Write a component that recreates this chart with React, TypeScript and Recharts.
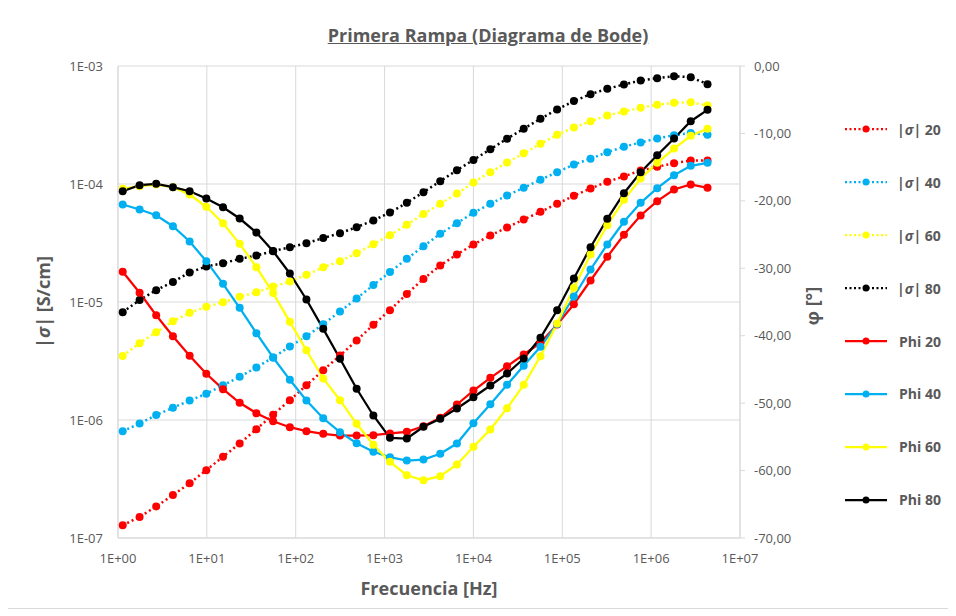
import React from 'react';
import { ComposedChart, Line, XAxis, YAxis, CartesianGrid, Legend } from 'recharts';

// Frequency [Hz]
const freq = [1.13, 1.75, 2.69, 4.15, 6.4, 9.86, 15.2, 23.4, 36.1, 55.7, 85.9, 132, 204, 315, 485, 748, 1150, 1780, 2740, 4230, 6520, 10000, 15500, 23900, 36800, 56800, 87500, 135000, 208000, 321000, 494000, 762000, 1170000, 1810000, 2790000, 4310000];

// |sigma| [S/cm]
const sigma20 = [1.28e-7, 1.51e-7, 1.85e-7, 2.31e-7, 2.91e-7, 3.76e-7, 4.88e-7, 6.32e-7, 8.36e-7, 1.11e-6, 1.47e-6, 1.97e-6, 2.64e-6, 3.52e-6, 4.72e-6, 6.41e-6, 8.53e-6, 1.17e-5, 1.57e-5, 2.04e-5, 2.53e-5, 3.07e-5, 3.66e-5, 4.28e-5, 5.0e-5, 5.81e-5, 6.79e-5, 7.94e-5, 9.16e-5, 1.045e-4, 1.16e-4, 1.3e-4, 1.4e-4, 1.5e-4, 1.58e-4, 1.58e-4];
const sigma40 = [8.04e-7, 9.33e-7, 1.1e-6, 1.27e-6, 1.46e-6, 1.67e-6, 1.97e-6, 2.32e-6, 2.79e-6, 3.39e-6, 4.2e-6, 5.13e-6, 6.49e-6, 8.3e-6, 1.07e-5, 1.39e-5, 1.8e-5, 2.32e-5, 2.97e-5, 3.78e-5, 4.66e-5, 5.7e-5, 6.79e-5, 8.0e-5, 9.29e-5, 1.087e-4, 1.26e-4, 1.46e-4, 1.64e-4, 1.86e-4, 2.07e-4, 2.25e-4, 2.43e-4, 2.59e-4, 2.7e-4, 2.61e-4];
const sigma60 = [3.48e-6, 4.48e-6, 5.55e-6, 6.87e-6, 8.09e-6, 9.1e-6, 9.95e-6, 1.107e-5, 1.21e-5, 1.35e-5, 1.49e-5, 1.7e-5, 1.97e-5, 2.22e-5, 2.59e-5, 3.09e-5, 3.68e-5, 4.51e-5, 5.58e-5, 6.79e-5, 8.3e-5, 1.03e-4, 1.26e-4, 1.52e-4, 1.82e-4, 2.19e-4, 2.61e-4, 3.01e-4, 3.4e-4, 3.81e-4, 4.11e-4, 4.43e-4, 4.69e-4, 4.88e-4, 4.93e-4, 4.62e-4];
const sigma80 = [8.2e-6, 1.04e-5, 1.26e-5, 1.48e-5, 1.78e-5, 2.0e-5, 2.13e-5, 2.32e-5, 2.48e-5, 2.7e-5, 2.91e-5, 3.15e-5, 3.48e-5, 3.83e-5, 4.31e-5, 4.91e-5, 5.73e-5, 6.93e-5, 8.53e-5, 1.057e-4, 1.31e-4, 1.6e-4, 1.97e-4, 2.42e-4, 2.94e-4, 3.57e-4, 4.28e-4, 5.04e-4, 5.77e-4, 6.41e-4, 6.97e-4, 7.53e-4, 7.89e-4, 8.2e-4, 8.04e-4, 7.02e-4];

// Phase [deg]
const phi20 = [-30.52, -33.62, -36.96, -40.07, -42.98, -45.65, -47.93, -49.95, -51.49, -52.68, -53.57, -54.16, -54.55, -54.8, -54.8, -54.76, -54.5, -54.25, -53.42, -52.17, -50.2, -48.13, -46.24, -44.52, -42.79, -41.05, -38.34, -35.33, -31.81, -28.3, -25.03, -22.17, -20.05, -18.32, -17.57, -18.06];
const phi40 = [-20.54, -21.28, -22.13, -23.76, -26.03, -28.95, -32.3, -35.86, -39.63, -43.23, -46.54, -49.61, -52.24, -54.31, -55.94, -57.22, -58.02, -58.51, -58.36, -57.51, -55.99, -52.98, -50.16, -47.28, -44.46, -41.65, -38.26, -34.19, -30.18, -26.47, -23.11, -20.29, -18.12, -16.2, -14.8, -14.36];
const phi60 = [-18.22, -17.83, -17.58, -17.97, -19.06, -20.88, -23.31, -26.37, -29.84, -33.68, -37.94, -42.15, -46.34, -49.56, -53.06, -56.18, -58.7, -60.69, -61.43, -60.83, -59.1, -56.48, -53.91, -50.75, -47.28, -43.04, -38.19, -32.89, -27.96, -23.61, -19.85, -16.69, -14.36, -12.24, -10.35, -9.31];
const phi80 = [-18.57, -17.68, -17.47, -17.97, -18.57, -19.65, -20.94, -22.62, -24.7, -27.47, -30.77, -34.63, -38.98, -43.42, -47.87, -51.83, -55.14, -55.25, -53.51, -52.32, -50.8, -49.12, -47.39, -45.61, -43.38, -40.31, -36.22, -31.52, -26.87, -22.66, -18.87, -15.75, -13.23, -10.75, -8.19, -6.5];

const xTicks = [1, 10, 100, 1e3, 1e4, 1e5, 1e6, 1e7];
const sigmaTicks = [1e-7, 1e-6, 1e-5, 1e-4, 1e-3];
const phiTicks = [-70, -60, -50, -40, -30, -20, -10, 0];
const temps = ['20', '40', '60', '80'];
const colors = ['#FF0000', '#00B0F0', '#FFFF00', '#000000'];

const sigmaSeries = [sigma20, sigma40, sigma60, sigma80];
const phiSeries = [phi20, phi40, phi60, phi80];

const data = freq.map((f, i) => {
  const row: Record<string, number> = { f };
  temps.forEach((t, k) => {
    row['s' + t] = sigmaSeries[k][i];
    row['p' + t] = phiSeries[k][i];
  });
  return row;
});

const FONT = '"Open Sans", sans-serif';
const GRAY = '#595959';
const GRID = '#d9d9d9';

const fmtX = (v: number) => '1E+' + String(Math.round(Math.log10(v))).padStart(2, '0');
const fmtSigma = (v: number) => '1E-' + String(Math.round(-Math.log10(v))).padStart(2, '0');
const fmtPhi = (v: number) => v.toFixed(2).replace('.', ',');

const legendItems = [
  ...temps.map((t, k) => ({ kind: 'sigma', t, color: colors[k] })),
  ...temps.map((t, k) => ({ kind: 'phi', t, color: colors[k] })),
];

function LegendContent() {
  return (
    <div style={{ display: 'flex', flexDirection: 'column', fontFamily: FONT }}>
      {legendItems.map((it) => (
        <div key={it.kind + it.t} style={{ height: 52.9, display: 'flex', alignItems: 'center' }}>
          <svg width={44} height={12} style={{ display: 'block' }}>
            <line x1={1} x2={43} y1={6} y2={6} stroke={it.color} strokeWidth={2.25}
              strokeDasharray={it.kind === 'sigma' ? '2 2.5' : undefined} />
            <circle cx={22} cy={6} r={3.5} fill={it.color} />
          </svg>
          <span style={{ marginLeft: it.kind === 'sigma' ? 9 : 11, fontSize: 14, fontWeight: 700, color: GRAY, whiteSpace: 'nowrap' }}>
            {it.kind === 'sigma' ? (<>|<i>σ</i>| {it.t}</>) : `Phi ${it.t}`}
          </span>
        </div>
      ))}
    </div>
  );
}

export default function App() {
  return (
    <div style={{ position: 'relative', width: 940, height: 600, border: '1px solid #d9d9d9', margin: '-1px 0 0 -1px', background: '#fff', fontFamily: FONT }}>
      <div style={{ position: 'absolute', left: 480, top: 27, transform: 'translate(-50%, -50%)', fontSize: 18, fontWeight: 700, color: GRAY, textDecoration: 'underline', whiteSpace: 'nowrap' }}>
        Primera Rampa (Diagrama de Bode)
      </div>
      <div style={{ position: 'absolute', left: 35, top: 294, transform: 'translate(-50%, -50%) rotate(-90deg)', fontSize: 18, fontWeight: 700, color: GRAY, whiteSpace: 'nowrap' }}>
        |<i>σ</i>| [S/cm]
      </div>
      <div style={{ position: 'absolute', left: 804, top: 298, transform: 'translate(-50%, -50%) rotate(-90deg)', fontSize: 18, fontWeight: 700, color: GRAY, whiteSpace: 'nowrap' }}>
        φ [°]
      </div>
      <div style={{ position: 'absolute', left: 421, top: 580, transform: 'translate(-50%, -50%)', fontSize: 18, fontWeight: 700, color: GRAY, whiteSpace: 'nowrap' }}>
        Frecuencia [Hz]
      </div>
      <ComposedChart width={940} height={600} data={data} margin={{ top: 58, right: 138, bottom: 40, left: 0 }} style={{ position: 'absolute', left: 0, top: 0 }}>
        <CartesianGrid stroke={GRID} yAxisId="left" />
        <XAxis dataKey="f" type="number" scale="log" domain={[1, 1e7]} ticks={xTicks} allowDataOverflow
          tickFormatter={fmtX} height={30} tickLine={false} tickSize={6} tickMargin={10}
          axisLine={{ stroke: GRID }} tick={{ fill: GRAY, fontSize: 13, fontFamily: FONT }} interval={0} />
        <YAxis yAxisId="left" type="number" scale="log" domain={[1e-7, 1e-3]} ticks={sigmaTicks} allowDataOverflow
          tickFormatter={fmtSigma} width={110} tickLine={false} tickSize={6} tickMargin={9}
          axisLine={{ stroke: GRID }} tick={{ fill: GRAY, fontSize: 13, fontFamily: FONT }} interval={0} />
        <YAxis yAxisId="right" orientation="right" type="number" domain={[-70, 0]} ticks={phiTicks} allowDataOverflow
          tickFormatter={fmtPhi} width={70} tickLine={{ stroke: GRID }} tickSize={5} tickMargin={9}
          axisLine={{ stroke: GRID }} tick={{ fill: GRAY, fontSize: 13, fontFamily: FONT, textAnchor: 'start' }} interval={0} />
        {temps.map((t, k) => (
          <Line key={'s' + t} yAxisId="left" dataKey={'s' + t} name={'|σ| ' + t} type="linear"
            stroke={colors[k]} strokeWidth={2.5} strokeDasharray="2 3"
            dot={{ r: 4, fill: colors[k], stroke: colors[k], strokeWidth: 0, strokeDasharray: 'none' }}
            activeDot={false} isAnimationActive={false} />
        ))}
        {temps.map((t, k) => (
          <Line key={'p' + t} yAxisId="right" dataKey={'p' + t} name={'Phi ' + t} type="linear"
            stroke={colors[k]} strokeWidth={2.25}
            dot={{ r: 4, fill: colors[k], stroke: colors[k], strokeWidth: 0 }}
            activeDot={false} isAnimationActive={false} />
        ))}
        <Legend layout="horizontal" verticalAlign="middle" align="center" content={() => <LegendContent />}
          wrapperStyle={{ position: 'absolute', left: 836, top: 95, width: 110, height: 430 }} />
      </ComposedChart>
    </div>
  );
}
